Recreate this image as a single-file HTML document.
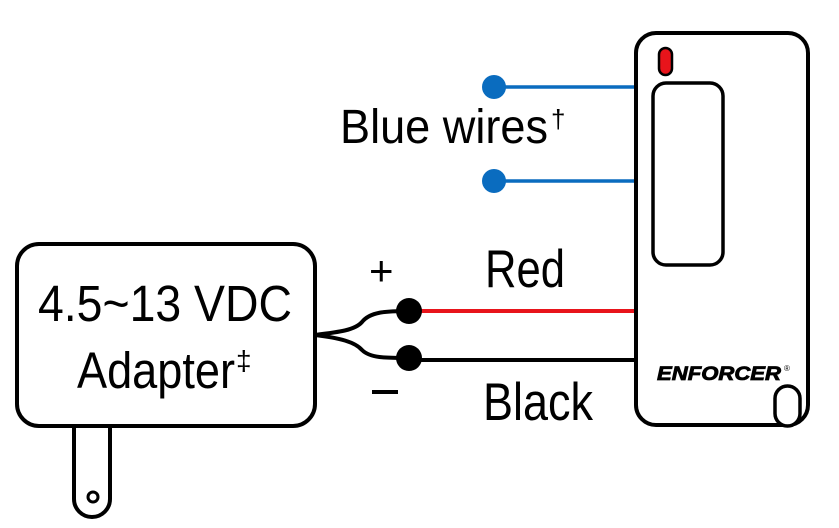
<!DOCTYPE html>
<html><head><style>html,body{margin:0;padding:0;background:#fff}svg{display:block}</style></head>
<body>
<svg width="839" height="528" viewBox="0 0 839 528" xmlns="http://www.w3.org/2000/svg" font-family="'Liberation Sans', Arial, sans-serif">
<rect width="839" height="528" fill="#fff"/>
<!-- plug -->
<path d="M74 426 V499 A18 18 0 0 0 110 499 V426" fill="#fff" stroke="#000" stroke-width="4"/>
<circle cx="93" cy="497" r="5" fill="none" stroke="#000" stroke-width="3"/>
<!-- adapter -->
<rect x="17" y="244" width="298" height="182" rx="22" fill="#fff" stroke="#000" stroke-width="4"/>
<text x="38" y="321" font-size="51" textLength="254" lengthAdjust="spacingAndGlyphs">4.5~13 VDC</text>
<text x="77" y="388" font-size="51" textLength="158" lengthAdjust="spacingAndGlyphs">Adapter</text>
<text x="236" y="370" font-size="28">‡</text>
<!-- split wires -->
<path d="M315 335 C340 332 355 330 362 322 C370 312 385 311 409 311" fill="none" stroke="#000" stroke-width="4"/>
<path d="M315 335 C340 338 355 342 362 350 C370 358 385 358 409 358" fill="none" stroke="#000" stroke-width="4"/>
<line x1="409" y1="311" x2="638" y2="311" stroke="#e8141b" stroke-width="4"/>
<line x1="409" y1="360" x2="638" y2="360" stroke="#000" stroke-width="4"/>
<circle cx="409" cy="311" r="13" fill="#000"/>
<circle cx="409" cy="358" r="13" fill="#000"/>
<text x="369" y="285" font-size="42">+</text>
<rect x="372" y="390" width="26" height="4" fill="#000"/>
<text x="485" y="287" font-size="53" textLength="80" lengthAdjust="spacingAndGlyphs">Red</text>
<text x="483" y="420" font-size="53" textLength="110" lengthAdjust="spacingAndGlyphs">Black</text>
<!-- blue wires -->
<line x1="494" y1="87" x2="638" y2="87" stroke="#0a6cbf" stroke-width="3.5"/>
<line x1="494" y1="181" x2="638" y2="181" stroke="#0a6cbf" stroke-width="3.5"/>
<circle cx="494" cy="87" r="12" fill="#0a6cbf"/>
<circle cx="494" cy="181" r="12" fill="#0a6cbf"/>
<text x="340" y="143" font-size="48" textLength="208" lengthAdjust="spacingAndGlyphs">Blue wires</text>
<text x="551" y="128" font-size="26">†</text>
<!-- device -->
<rect x="636" y="33" width="172" height="392" rx="20" fill="#fff" stroke="#000" stroke-width="4"/>
<rect x="659" y="48" width="13" height="27" rx="6.5" fill="#e8141b" stroke="#000" stroke-width="2.5"/>
<rect x="653" y="83" width="70" height="182" rx="13" fill="#fff" stroke="#000" stroke-width="3.5"/>
<text x="657" y="380" font-size="19" font-weight="bold" font-style="italic" stroke="#000" stroke-width="0.8" textLength="124" lengthAdjust="spacingAndGlyphs">ENFORCER</text>
<text x="784" y="371" font-size="8">®</text>
<rect x="775" y="386" width="25" height="40" rx="12.5" fill="#fff" stroke="#000" stroke-width="3.5"/>
</svg>
</body></html>
